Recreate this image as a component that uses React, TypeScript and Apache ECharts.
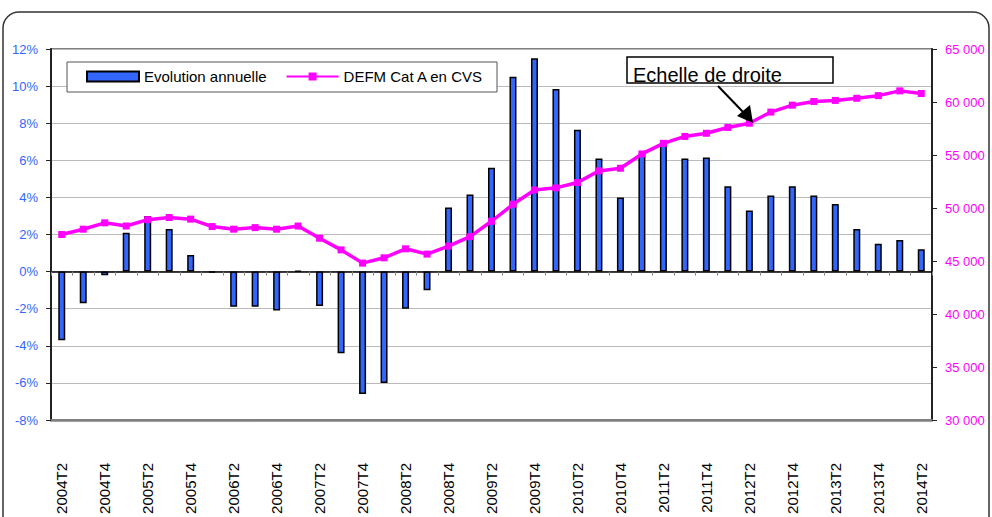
import React, { useEffect, useRef } from "react";
import * as echarts from "echarts";

const categories = [
  "2004T2", "2004T3", "2004T4", "2005T1", "2005T2", "2005T3", "2005T4", "2006T1",
  "2006T2", "2006T3", "2006T4", "2007T1", "2007T2", "2007T3", "2007T4", "2008T1",
  "2008T2", "2008T3", "2008T4", "2009T1", "2009T2", "2009T3", "2009T4", "2010T1",
  "2010T2", "2010T3", "2010T4", "2011T1", "2011T2", "2011T3", "2011T4", "2012T1",
  "2012T2", "2012T3", "2012T4", "2013T1", "2013T2", "2013T3", "2013T4", "2014T1",
  "2014T2",
];

// Evolution annuelle (%), left axis
const evolution = [
  -3.7, -1.7, -0.2, 2.1, 3.0, 2.3, 0.9, -0.05, -1.9, -1.9, -2.1, 0.05, -1.85, -4.4,
  -6.6, -6.0, -2.0, -1.0, 3.45, 4.15, 5.6, 10.5, 11.5, 9.85, 7.65, 6.1, 4.0, 6.35,
  6.9, 6.1, 6.15, 4.6, 3.3, 4.1, 4.6, 4.1, 3.65, 2.3, 1.5, 1.7, 1.2,
];

// DEFM Cat A en CVS, right axis
const defm = [
  47500, 48000, 48600, 48300, 48900, 49100, 48950, 48250, 48000, 48150, 48000, 48300,
  47150, 46050, 44800, 45300, 46150, 45650, 46400, 47300, 48750, 50350, 51700, 51900,
  52400, 53500, 53750, 55100, 56100, 56750, 57050, 57600, 58000, 59050, 59700, 60050,
  60150, 60350, 60600, 61050, 60800,
];

const leftTicks = { min: -8, max: 12, interval: 2 };
const rightTicks = { min: 30000, max: 65000, interval: 5000 };

const seriesNames = ["Evolution annuelle", "DEFM Cat A en CVS"];
const annotationText = "Echelle de droite";

const FONT = "Liberation Sans, Arial, sans-serif";

export default function App() {
  const ref = useRef<HTMLDivElement>(null);

  useEffect(() => {
    if (!ref.current) return;
    const chart = echarts.init(ref.current, undefined, { renderer: "svg" });
    chart.setOption({
      animation: false,
      backgroundColor: "#ffffff",
      textStyle: { fontFamily: FONT },
      grid: {
        left: 51,
        right: 60,
        top: 49,
        bottom: 97,
        show: true,
        borderColor: "#808080",
        borderWidth: 2,
        backgroundColor: "transparent",
      },
      legend: {
        z: 20,
        left: 86,
        top: 69,
        itemWidth: 52,
        itemHeight: 10,
        itemGap: 19,
        padding: 0,
        textStyle: { fontSize: 15, color: "#000", fontFamily: FONT },
        data: [
          { name: seriesNames[0], icon: "rect" },
          { name: seriesNames[1] },
        ],
      },
      xAxis: [
        {
          type: "category",
          data: categories,
          boundaryGap: true,
          axisLine: { onZero: true, onZeroAxisIndex: 0, lineStyle: { color: "#000", width: 1.5 } },
          axisTick: { show: true, interval: 0, length: 4, lineStyle: { color: "#888" } },
          axisLabel: { show: false },
          splitLine: { show: false },
          z: 3,
        },
        {
          type: "category",
          data: categories,
          position: "bottom",
          boundaryGap: true,
          axisLine: { onZero: false, lineStyle: { color: "#808080", width: 2.5 } },
          axisTick: { show: false },
          axisLabel: {
            interval: 1,
            rotate: 90,
            margin: 43,
            fontSize: 15,
            color: "#000",
            fontFamily: FONT,
          },
          splitLine: { show: false },
        },
      ],
      yAxis: [
        {
          type: "value",
          min: leftTicks.min,
          max: leftTicks.max,
          interval: leftTicks.interval,
          position: "left",
          axisLine: { show: true, lineStyle: { color: "#222", width: 2 } },
          axisTick: { show: true, length: 5, lineStyle: { color: "#222" } },
          axisLabel: {
            margin: 13,
            fontSize: 13,
            color: "#3366FF",
            fontFamily: FONT,
            formatter: (v: number) => `${v}%`,
          },
          splitLine: { show: true, lineStyle: { color: "#BBBBBB", width: 1 } },
        },
        {
          type: "value",
          min: rightTicks.min,
          max: rightTicks.max,
          interval: rightTicks.interval,
          position: "right",
          axisLine: { show: true, lineStyle: { color: "#222", width: 2 } },
          axisTick: { show: true, length: 5, lineStyle: { color: "#222" } },
          axisLabel: {
            margin: 13,
            fontSize: 13,
            color: "#FF00FF",
            fontFamily: FONT,
            formatter: (v: number) => {
              const s = String(v);
              return s.slice(0, s.length - 3) + " " + s.slice(s.length - 3);
            },
          },
          splitLine: { show: false },
        },
      ],
      series: [
        {
          name: seriesNames[0],
          type: "bar",
          xAxisIndex: 0,
          yAxisIndex: 0,
          data: evolution,
          barWidth: 7,
          itemStyle: { color: "#3366FF", borderColor: "#000", borderWidth: 1.5 },
          z: 4,
        },
        {
          name: seriesNames[1],
          type: "line",
          xAxisIndex: 0,
          yAxisIndex: 1,
          data: defm,
          symbol: "rect",
          symbolSize: 7,
          showSymbol: true,
          lineStyle: { color: "#FF00FF", width: 3.5 },
          itemStyle: { color: "#FF00FF" },
          z: 6,
        },
      ],
      graphic: [
        {
          type: "rect",
          silent: true,
          z: 0,
          shape: { x: 3, y: 12, width: 986, height: 600, r: 16 },
          style: { fill: "none", stroke: "#333", lineWidth: 1.5 },
        },
        {
          type: "rect",
          silent: true,
          z: 10,
          shape: { x: 67, y: 62, width: 430, height: 30 },
          style: { fill: "#fff", stroke: "#555", lineWidth: 1 },
        },
        {
          type: "rect",
          silent: true,
          z: 10,
          shape: { x: 627, y: 57, width: 206, height: 26 },
          style: { fill: "#fff", stroke: "#000", lineWidth: 1.5 },
        },
        {
          type: "text",
          silent: true,
          z: 11,
          x: 633,
          y: 74.5,
          style: {
            text: annotationText,
            font: `20px ${FONT}`,
            fill: "#000",
            verticalAlign: "middle",
            align: "left",
          },
        },
        {
          type: "line",
          silent: true,
          z: 11,
          shape: { x1: 718, y1: 86, x2: 744, y2: 113 },
          style: { stroke: "#000", lineWidth: 2 },
        },
        {
          type: "polygon",
          silent: true,
          z: 11,
          shape: { points: [[753, 123], [737, 116], [750, 105]] },
          style: { fill: "#000" },
        },
      ],
    });
    return () => chart.dispose();
  }, []);

  return (
    <div
      ref={ref}
      style={{ position: "fixed", left: 0, top: 0, width: 992, height: 517, background: "#fff" }}
    />
  );
}
